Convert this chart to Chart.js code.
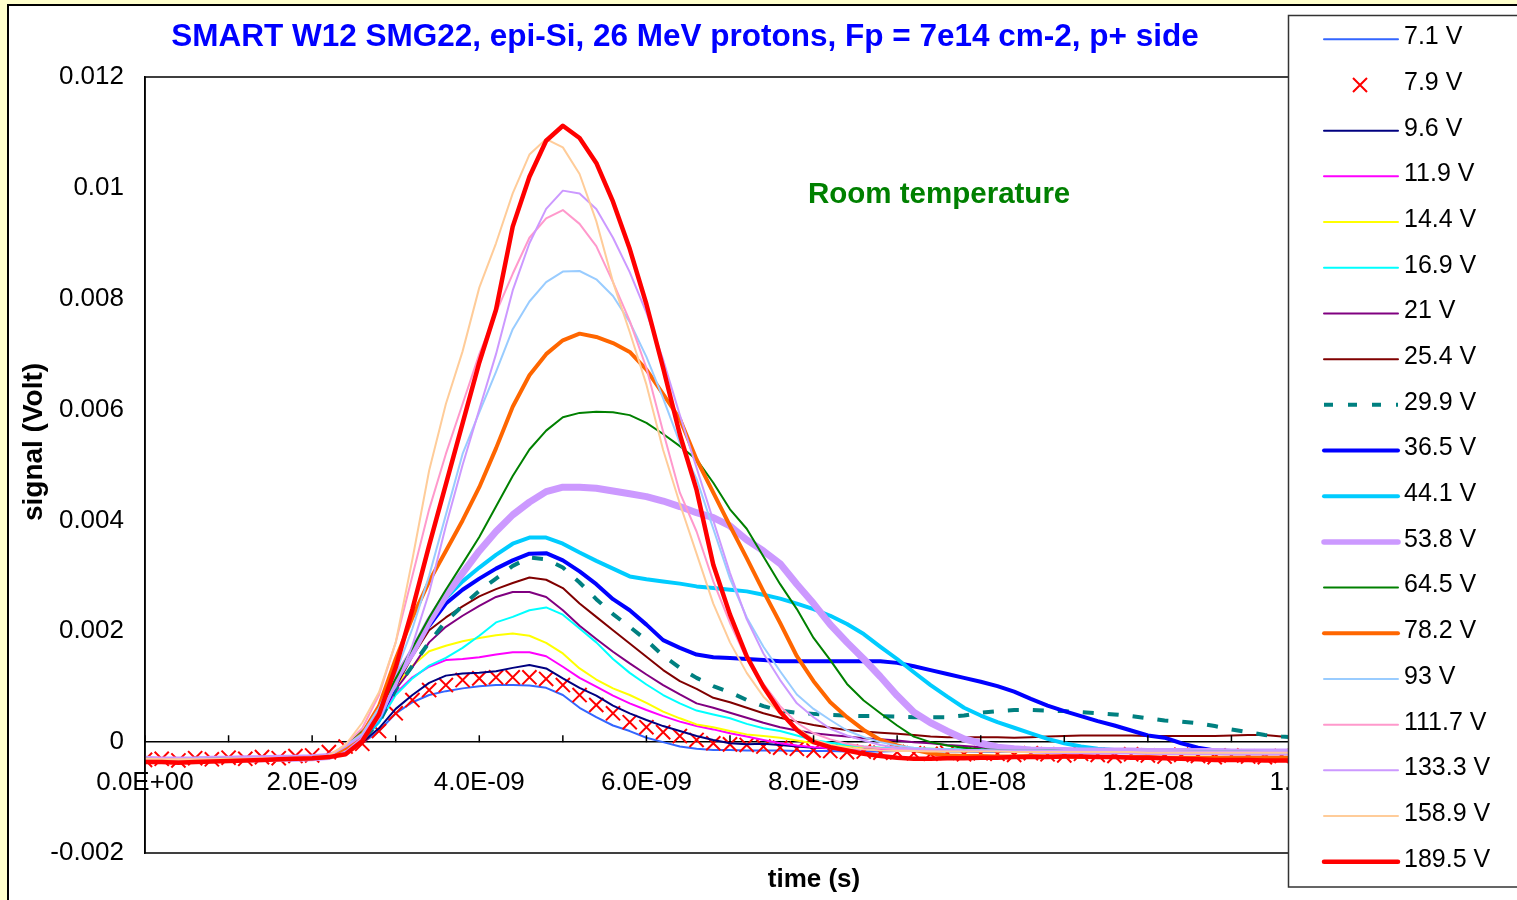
<!DOCTYPE html>
<html>
<head>
<meta charset="utf-8">
<script src="https://cdn.jsdelivr.net/npm/chart.js@4.4.1/dist/chart.umd.min.js"></script>
<style>
  html, body { margin: 0; padding: 0; background: #FFFFCC; overflow: hidden; }
  #panel { position: absolute; left: 7px; top: 4px; width: 1530px; height: 920px; background: #fff; border: 2px solid #000; }
  #wrap { position: absolute; left: 0; top: 0; width: 1517px; height: 900px; }
</style>
</head>
<body>
<div id="panel"></div>
<div id="wrap"><canvas id="c" width="1517" height="900"></canvas></div>
<script>
const FONT = "'Liberation Sans', Arial, Helvetica, sans-serif";

const TITLE = "SMART W12 SMG22, epi-Si, 26 MeV protons, Fp = 7e14 cm-2, p+ side";
const NOTE = "Room temperature";
const X_TITLE = "time (s)";
const Y_TITLE = "signal (Volt)";

// time in ns, signal in mV (axis labels are shown in s and V)
const TIME_NS = [0.0,0.2,0.4,0.6,0.8,1.0,1.2,1.4,1.6,1.8,
  2.0,2.2,2.4,2.6,2.8,3.0,3.2,3.4,3.6,3.8,
  4.0,4.2,4.4,4.6,4.8,5.0,5.2,5.4,5.6,5.8,
  6.0,6.2,6.4,6.6,6.8,7.0,7.2,7.4,7.6,7.8,
  8.0,8.2,8.4,8.6,8.8,9.0,9.2,9.4,9.6,9.8,
  10.0,10.2,10.4,10.6,10.8,11.0,11.2,11.4,11.6,11.8,
  12.0,12.2,12.4,12.6,12.8,13.0,13.2,13.4,13.6,13.8,
  14.0];

const V7_1 = [-0.29,-0.30,-0.31,-0.31,-0.30,-0.30,-0.29,-0.29,-0.28,-0.28,
  -0.27,-0.25,-0.15,-0.02,0.20,0.52,0.72,0.85,0.92,0.97,
  1.01,1.03,1.03,1.02,0.98,0.85,0.62,0.45,0.30,0.20,
  0.08,0.00,-0.08,-0.12,-0.14,-0.14,-0.15,-0.15,-0.15,-0.16,
  -0.16,-0.16,-0.17,-0.17,-0.17,-0.16,-0.16,-0.17,-0.17,-0.17,
  -0.18,-0.18,-0.17,-0.17,-0.17,-0.18,-0.18,-0.18,-0.17,-0.17,
  -0.18,-0.18,-0.18,-0.19,-0.19,-0.18,-0.18,-0.18,-0.19,-0.19,
  -0.19];
const V7_9 = [-0.32,-0.30,-0.33,-0.29,-0.31,-0.28,-0.30,-0.27,-0.29,-0.25,
  -0.24,-0.18,-0.08,-0.03,0.20,0.52,0.76,0.94,1.03,1.12,
  1.15,1.17,1.17,1.17,1.14,1.03,0.85,0.67,0.52,0.36,
  0.27,0.18,0.11,0.04,-0.02,-0.04,-0.05,-0.08,-0.10,-0.12,
  -0.15,-0.16,-0.18,-0.17,-0.19,-0.18,-0.20,-0.21,-0.19,-0.22,
  -0.20,-0.21,-0.23,-0.20,-0.22,-0.24,-0.21,-0.23,-0.25,-0.22,
  -0.24,-0.26,-0.23,-0.25,-0.27,-0.24,-0.26,-0.27,-0.25,-0.27,
  -0.26];
const V9_6 = [-0.30,-0.31,-0.31,-0.32,-0.31,-0.30,-0.30,-0.29,-0.29,-0.28,
  -0.27,-0.25,-0.15,0.00,0.25,0.60,0.85,1.07,1.20,1.24,
  1.25,1.28,1.34,1.39,1.33,1.15,0.98,0.84,0.66,0.52,
  0.40,0.29,0.20,0.11,0.04,-0.02,-0.04,-0.03,-0.05,-0.08,
  -0.10,-0.11,-0.12,-0.12,-0.13,-0.13,-0.14,-0.14,-0.14,-0.15,
  -0.15,-0.15,-0.16,-0.16,-0.16,-0.16,-0.17,-0.17,-0.17,-0.17,
  -0.17,-0.17,-0.18,-0.18,-0.18,-0.18,-0.18,-0.18,-0.18,-0.18,
  -0.18];
const V11_9 = [-0.30,-0.30,-0.31,-0.31,-0.31,-0.30,-0.30,-0.29,-0.29,-0.28,
  -0.27,-0.25,-0.15,0.05,0.45,0.88,1.17,1.36,1.48,1.50,
  1.53,1.58,1.62,1.62,1.55,1.36,1.16,1.00,0.84,0.70,
  0.58,0.47,0.37,0.29,0.23,0.16,0.10,0.04,-0.02,-0.06,
  -0.09,-0.11,-0.12,-0.13,-0.13,-0.14,-0.14,-0.14,-0.15,-0.15,
  -0.15,-0.15,-0.16,-0.16,-0.16,-0.16,-0.16,-0.17,-0.17,-0.17,
  -0.17,-0.17,-0.17,-0.17,-0.18,-0.18,-0.18,-0.18,-0.18,-0.18,
  -0.18];
const V14_4 = [-0.30,-0.31,-0.31,-0.31,-0.30,-0.30,-0.30,-0.29,-0.29,-0.28,
  -0.27,-0.25,-0.15,0.05,0.40,1.02,1.38,1.64,1.74,1.82,
  1.88,1.93,1.96,1.92,1.79,1.60,1.33,1.13,0.97,0.85,
  0.71,0.55,0.43,0.32,0.27,0.20,0.14,0.11,0.08,0.03,
  -0.02,-0.05,-0.07,-0.09,-0.10,-0.11,-0.12,-0.12,-0.13,-0.13,
  -0.14,-0.14,-0.14,-0.15,-0.15,-0.15,-0.15,-0.16,-0.16,-0.16,
  -0.16,-0.16,-0.16,-0.17,-0.17,-0.17,-0.17,-0.17,-0.17,-0.17,
  -0.17];
const V16_9 = [-0.31,-0.31,-0.32,-0.31,-0.31,-0.30,-0.30,-0.29,-0.29,-0.28,
  -0.27,-0.25,-0.15,0.02,0.35,0.85,1.15,1.38,1.52,1.70,
  1.92,2.16,2.26,2.38,2.43,2.30,2.05,1.80,1.50,1.25,
  1.04,0.85,0.70,0.57,0.50,0.43,0.33,0.25,0.20,0.12,
  0.04,-0.01,-0.05,-0.08,-0.10,-0.11,-0.12,-0.12,-0.13,-0.13,
  -0.13,-0.14,-0.14,-0.14,-0.14,-0.14,-0.15,-0.15,-0.15,-0.15,
  -0.15,-0.15,-0.15,-0.16,-0.16,-0.16,-0.16,-0.16,-0.16,-0.16,
  -0.16];
const V21 = [-0.30,-0.31,-0.31,-0.31,-0.30,-0.30,-0.29,-0.29,-0.28,-0.28,
  -0.27,-0.25,-0.12,0.08,0.45,0.95,1.35,1.80,2.08,2.28,
  2.46,2.62,2.71,2.71,2.62,2.38,2.10,1.86,1.63,1.42,
  1.22,1.03,0.86,0.70,0.62,0.53,0.44,0.35,0.27,0.21,
  0.16,0.13,0.10,0.07,0.05,0.03,0.00,-0.02,-0.05,-0.07,
  -0.09,-0.11,-0.12,-0.12,-0.12,-0.13,-0.13,-0.13,-0.13,-0.14,
  -0.14,-0.14,-0.14,-0.14,-0.14,-0.15,-0.15,-0.15,-0.15,-0.15,
  -0.15];
const V25_4 = [-0.30,-0.30,-0.31,-0.31,-0.30,-0.30,-0.29,-0.29,-0.28,-0.28,
  -0.27,-0.25,-0.12,0.05,0.40,1.00,1.55,2.02,2.25,2.45,
  2.63,2.76,2.87,2.97,2.93,2.78,2.50,2.26,2.02,1.78,
  1.54,1.30,1.10,0.96,0.80,0.72,0.62,0.52,0.44,0.37,
  0.31,0.26,0.22,0.19,0.17,0.15,0.13,0.10,0.09,0.09,
  0.09,0.09,0.08,0.09,0.10,0.11,0.12,0.12,0.12,0.12,
  0.11,0.11,0.11,0.11,0.11,0.12,0.13,0.13,0.10,0.09,
  0.09];
const V29_9 = [-0.30,-0.31,-0.31,-0.30,-0.30,-0.30,-0.29,-0.29,-0.28,-0.28,
  -0.27,-0.25,-0.12,0.05,0.35,0.95,1.38,1.80,2.18,2.46,
  2.73,2.95,3.18,3.33,3.30,3.15,2.88,2.58,2.31,2.08,
  1.84,1.56,1.34,1.16,1.01,0.90,0.76,0.65,0.57,0.53,
  0.51,0.49,0.48,0.47,0.47,0.46,0.45,0.45,0.45,0.48,
  0.53,0.56,0.58,0.58,0.57,0.56,0.54,0.52,0.50,0.47,
  0.43,0.39,0.37,0.34,0.29,0.23,0.18,0.13,0.10,0.08,
  0.06];
const V36_5 = [-0.31,-0.31,-0.32,-0.31,-0.31,-0.30,-0.30,-0.29,-0.29,-0.28,
  -0.27,-0.25,-0.12,0.08,0.40,1.05,1.65,2.10,2.50,2.75,
  2.95,3.13,3.28,3.40,3.41,3.28,3.08,2.85,2.58,2.38,
  2.12,1.84,1.70,1.58,1.53,1.52,1.50,1.48,1.46,1.46,
  1.46,1.46,1.46,1.46,1.46,1.43,1.37,1.30,1.23,1.16,
  1.09,1.01,0.91,0.78,0.66,0.56,0.47,0.38,0.30,0.21,
  0.12,0.08,-0.02,-0.10,-0.15,-0.16,-0.17,-0.17,-0.17,-0.18,
  -0.18];
const V44_1 = [-0.31,-0.32,-0.32,-0.31,-0.31,-0.30,-0.30,-0.29,-0.29,-0.28,
  -0.27,-0.25,-0.12,0.08,0.40,1.10,1.68,2.18,2.60,2.90,
  3.15,3.38,3.58,3.69,3.69,3.58,3.42,3.27,3.13,2.99,
  2.94,2.90,2.86,2.81,2.78,2.75,2.72,2.66,2.59,2.50,
  2.40,2.28,2.13,1.95,1.72,1.50,1.26,1.03,0.82,0.62,
  0.48,0.36,0.26,0.16,0.06,-0.02,-0.08,-0.12,-0.14,-0.15,
  -0.15,-0.16,-0.16,-0.16,-0.17,-0.17,-0.17,-0.17,-0.17,-0.17,
  -0.17];
const V53_8 = [-0.31,-0.32,-0.32,-0.32,-0.31,-0.31,-0.30,-0.30,-0.29,-0.29,
  -0.28,-0.26,-0.15,0.12,0.50,1.15,1.62,2.18,2.65,3.05,
  3.45,3.80,4.10,4.33,4.52,4.60,4.60,4.58,4.53,4.48,
  4.43,4.35,4.25,4.14,4.05,3.90,3.65,3.45,3.22,2.85,
  2.50,2.12,1.80,1.50,1.18,0.84,0.54,0.35,0.20,0.06,
  -0.02,-0.09,-0.12,-0.14,-0.15,-0.15,-0.16,-0.16,-0.16,-0.16,
  -0.17,-0.17,-0.17,-0.17,-0.17,-0.18,-0.18,-0.18,-0.18,-0.18,
  -0.18];
const V64_5 = [-0.30,-0.31,-0.31,-0.31,-0.30,-0.30,-0.30,-0.29,-0.29,-0.28,
  -0.27,-0.25,-0.08,0.20,0.55,1.15,1.70,2.25,2.75,3.22,
  3.70,4.25,4.80,5.28,5.62,5.86,5.94,5.96,5.95,5.90,
  5.76,5.56,5.34,5.10,4.68,4.20,3.85,3.35,2.85,2.40,
  1.88,1.48,1.05,0.75,0.52,0.30,0.10,0.00,-0.06,-0.10,
  -0.13,-0.14,-0.15,-0.15,-0.15,-0.16,-0.16,-0.16,-0.16,-0.16,
  -0.17,-0.17,-0.17,-0.17,-0.17,-0.17,-0.17,-0.18,-0.18,-0.18,
  -0.18];
const V78_2 = [-0.33,-0.33,-0.34,-0.33,-0.33,-0.32,-0.32,-0.31,-0.31,-0.30,
  -0.29,-0.27,-0.10,0.15,0.65,1.50,2.25,2.90,3.45,4.00,
  4.60,5.30,6.05,6.62,7.00,7.25,7.37,7.31,7.20,7.04,
  6.72,6.28,5.83,5.10,4.50,3.90,3.32,2.72,2.15,1.55,
  1.10,0.72,0.45,0.22,0.04,-0.06,-0.14,-0.20,-0.24,-0.25,
  -0.25,-0.26,-0.26,-0.25,-0.26,-0.26,-0.27,-0.27,-0.27,-0.27,
  -0.27,-0.28,-0.28,-0.28,-0.28,-0.28,-0.28,-0.28,-0.28,-0.28,
  -0.28];
const V93 = [-0.30,-0.31,-0.31,-0.30,-0.30,-0.30,-0.29,-0.29,-0.28,-0.28,
  -0.27,-0.25,-0.06,0.15,0.62,1.25,2.05,3.00,4.10,5.20,
  5.95,6.68,7.45,7.95,8.30,8.49,8.50,8.35,8.05,7.58,
  6.95,6.20,5.40,4.75,3.85,2.95,2.25,1.72,1.28,0.86,
  0.60,0.40,0.21,0.09,0.00,-0.06,-0.10,-0.12,-0.13,-0.14,
  -0.14,-0.15,-0.15,-0.15,-0.15,-0.16,-0.16,-0.16,-0.16,-0.16,
  -0.16,-0.16,-0.17,-0.17,-0.17,-0.17,-0.17,-0.17,-0.17,-0.17,
  -0.17];
const V111_7 = [-0.30,-0.30,-0.31,-0.31,-0.30,-0.30,-0.29,-0.29,-0.28,-0.28,
  -0.27,-0.25,-0.04,0.25,0.85,1.80,3.00,4.20,5.20,6.10,
  7.00,7.75,8.45,9.10,9.45,9.60,9.35,8.95,8.30,7.60,
  6.75,5.60,4.50,3.80,2.90,2.15,1.50,1.05,0.65,0.35,
  0.16,0.05,-0.03,-0.08,-0.11,-0.13,-0.14,-0.15,-0.15,-0.15,
  -0.16,-0.16,-0.16,-0.16,-0.16,-0.17,-0.17,-0.17,-0.17,-0.17,
  -0.17,-0.17,-0.17,-0.18,-0.18,-0.18,-0.18,-0.18,-0.18,-0.18,
  -0.18];
const V133_3 = [-0.30,-0.31,-0.31,-0.31,-0.30,-0.30,-0.29,-0.29,-0.28,-0.28,
  -0.27,-0.25,-0.08,0.12,0.55,1.00,1.75,2.70,3.90,5.00,
  6.00,7.00,8.15,9.00,9.62,9.95,9.90,9.62,9.10,8.48,
  7.75,6.90,5.90,4.95,4.00,3.05,2.22,1.60,1.12,0.70,
  0.45,0.24,0.12,0.03,-0.05,-0.10,-0.12,-0.13,-0.14,-0.14,
  -0.15,-0.15,-0.15,-0.15,-0.16,-0.16,-0.16,-0.16,-0.16,-0.16,
  -0.17,-0.17,-0.17,-0.17,-0.17,-0.17,-0.17,-0.17,-0.17,-0.17,
  -0.17];
const V158_9 = [-0.30,-0.31,-0.31,-0.31,-0.31,-0.30,-0.30,-0.29,-0.29,-0.28,
  -0.27,-0.24,-0.05,0.35,0.90,1.80,3.30,4.90,6.10,7.05,
  8.20,9.00,9.90,10.60,10.88,10.73,10.25,9.40,8.30,7.40,
  6.45,5.27,4.30,3.40,2.50,1.80,1.25,0.82,0.52,0.26,
  0.05,-0.05,-0.10,-0.13,-0.15,-0.16,-0.16,-0.17,-0.17,-0.17,
  -0.17,-0.17,-0.18,-0.18,-0.18,-0.18,-0.18,-0.18,-0.18,-0.18,
  -0.19,-0.19,-0.19,-0.19,-0.19,-0.19,-0.19,-0.19,-0.19,-0.19,
  -0.19];
const V189_5 = [-0.36,-0.36,-0.37,-0.36,-0.35,-0.34,-0.33,-0.32,-0.31,-0.30,
  -0.29,-0.27,-0.22,0.02,0.50,1.35,2.40,3.55,4.65,5.75,
  6.85,7.80,9.30,10.20,10.85,11.12,10.90,10.45,9.75,8.90,
  7.90,6.75,5.55,4.55,3.20,2.30,1.55,1.00,0.55,0.22,
  0.00,-0.09,-0.15,-0.21,-0.25,-0.28,-0.30,-0.30,-0.29,-0.29,
  -0.28,-0.28,-0.27,-0.27,-0.27,-0.26,-0.26,-0.27,-0.27,-0.28,
  -0.28,-0.29,-0.30,-0.31,-0.32,-0.32,-0.32,-0.33,-0.33,-0.33,
  -0.33];

const LABELS = ["7.1 V","7.9 V","9.6 V","11.9 V","14.4 V","16.9 V","21 V","25.4 V","29.9 V",
  "36.5 V","44.1 V","53.8 V","64.5 V","78.2 V","93 V","111.7 V","133.3 V","158.9 V","189.5 V"];
const VALUES = [V7_1, V7_9, V9_6, V11_9, V14_4, V16_9, V21, V25_4, V29_9,
  V36_5, V44_1, V53_8, V64_5, V78_2, V93, V111_7, V133_3, V158_9, V189_5];

// line look of each series, same order as LABELS
const STYLES = [
  { color: "#3366FF", width: 2 },
  { color: "#FF0000", width: 2, marker: true },
  { color: "#000080", width: 2 },
  { color: "#FF00FF", width: 2 },
  { color: "#FFFF00", width: 2 },
  { color: "#00FFFF", width: 2 },
  { color: "#800080", width: 2 },
  { color: "#800000", width: 2 },
  { color: "#008080", width: 4, dash: [11, 14] },
  { color: "#0000FF", width: 4 },
  { color: "#00CCFF", width: 4 },
  { color: "#CC99FF", width: 7 },
  { color: "#008000", width: 2 },
  { color: "#FF6600", width: 4 },
  { color: "#99CCFF", width: 2 },
  { color: "#FF99CC", width: 2 },
  { color: "#CC99FF", width: 2 },
  { color: "#FFCC99", width: 2 },
  { color: "#FF0000", width: 4.5 },
];

const datasets = LABELS.map((label, i) => {
  const st = STYLES[i];
  return {
    label: label,
    data: TIME_NS.map((t, k) => ({ x: t, y: VALUES[i][k] })),
    borderColor: st.color,
    backgroundColor: st.color,
    borderWidth: st.width,
    borderDash: st.dash || [],
    borderCapStyle: st.dash ? "butt" : "round",
    borderJoinStyle: "round",
    showLine: !st.marker,
    pointStyle: "crossRot",
    pointRadius: st.marker ? 10 : 0,
    pointBorderWidth: 2,
    pointBorderColor: st.color,
    fill: false,
    // later series are painted on top, like the original
    order: LABELS.length - i,
  };
});

const sciLabel = (ns) => {
  if (ns === 0) return "0.0E+00";
  if (ns < 10) return ns.toFixed(1) + "E-09";
  return (ns / 10).toFixed(1) + "E-08";
};

const decor = {
  id: "decor",
  afterDatasetsDraw(chart) {
    const { ctx, chartArea: a } = chart;
    const xs = chart.scales.x, ys = chart.scales.y;
    ctx.save();
    ctx.strokeStyle = "#000";
    ctx.lineWidth = 1.5;
    ctx.strokeRect(a.left, a.top, a.right - a.left, a.bottom - a.top);
    // tick marks every ns, pointing up from the zero line
    const y0 = ys.getPixelForValue(0);
    ctx.beginPath();
    for (let t = 0; t <= 14; t++) {
      const px = xs.getPixelForValue(t);
      ctx.moveTo(px, y0);
      ctx.lineTo(px, y0 - 7);
    }
    ctx.stroke();
    ctx.restore();
  },
  afterDraw(chart) {
    const ctx = chart.ctx;
    ctx.save();
    ctx.textBaseline = "middle";

    ctx.fillStyle = "#0000FF";
    ctx.font = "bold 31.5px " + FONT;
    ctx.textAlign = "center";
    ctx.fillText(TITLE, 685, 37);

    ctx.fillStyle = "#008000";
    ctx.font = "bold 29.5px " + FONT;
    ctx.textAlign = "left";
    ctx.fillText(NOTE, 808, 195);

    ctx.fillStyle = "#000";
    ctx.font = "bold 26px " + FONT;
    ctx.textAlign = "center";
    ctx.fillText(X_TITLE, 814, 880);
    ctx.font = "bold 28px " + FONT;
    ctx.save();
    ctx.translate(34, 442);
    ctx.rotate(-Math.PI / 2);
    ctx.fillText(Y_TITLE, 0, 0);
    ctx.restore();

    // legend box
    ctx.fillStyle = "#fff";
    ctx.fillRect(1288, 15, 240, 872);
    ctx.strokeStyle = "#333";
    ctx.lineWidth = 1.5;
    ctx.strokeRect(1288.5, 15.5, 240, 871.5);

    ctx.font = "25px " + FONT;
    chart.data.datasets.forEach((ds, i) => {
      const y = 39.3 + i * 45.69;
      ctx.save();
      ctx.strokeStyle = ds.borderColor;
      if (ds.showLine === false) {
        ctx.lineWidth = 2;
        ctx.beginPath();
        ctx.moveTo(1353, y - 7); ctx.lineTo(1367, y + 7);
        ctx.moveTo(1367, y - 7); ctx.lineTo(1353, y + 7);
        ctx.stroke();
      } else {
        ctx.lineWidth = Math.min(ds.borderWidth, 5.5);
        ctx.lineCap = ds.borderDash.length ? "butt" : "round";
        ctx.setLineDash(ds.borderDash.length ? [9, 15] : []);
        ctx.beginPath();
        ctx.moveTo(1324, y);
        ctx.lineTo(1398, y);
        ctx.stroke();
      }
      ctx.restore();
      ctx.fillStyle = "#000";
      ctx.textAlign = "left";
      ctx.fillText(ds.label, 1404, y - 2);
    });
    ctx.restore();
  },
};

new Chart(document.getElementById("c"), {
  type: "line",
  data: { datasets: datasets },
  options: {
    responsive: false,
    animation: false,
    devicePixelRatio: 1,
    layout: { padding: { top: 77, right: 202, bottom: 47, left: 0 } },
    plugins: { legend: { display: false }, tooltip: { enabled: false } },
    scales: {
      x: {
        type: "linear",
        min: 0,
        max: 14,
        position: { y: 0 },
        grid: { display: false, drawTicks: false },
        border: { color: "#000", width: 1.5 },
        ticks: {
          stepSize: 2,
          autoSkip: false,
          maxRotation: 0,
          padding: 25,
          color: "#000",
          font: { family: FONT, size: 26 },
          callback: (v) => sciLabel(v),
        },
      },
      y: {
        type: "linear",
        min: -2,
        max: 12,
        grid: { display: false, drawTicks: false },
        border: { color: "#000", width: 1.5 },
        ticks: {
          stepSize: 2,
          padding: 21,
          color: "#000",
          font: { family: FONT, size: 26 },
          callback: (v) => String(v / 1000),
        },
        afterFit: (s) => { s.width = 145; },
      },
    },
  },
  plugins: [decor],
});
</script>
</body>
</html>
